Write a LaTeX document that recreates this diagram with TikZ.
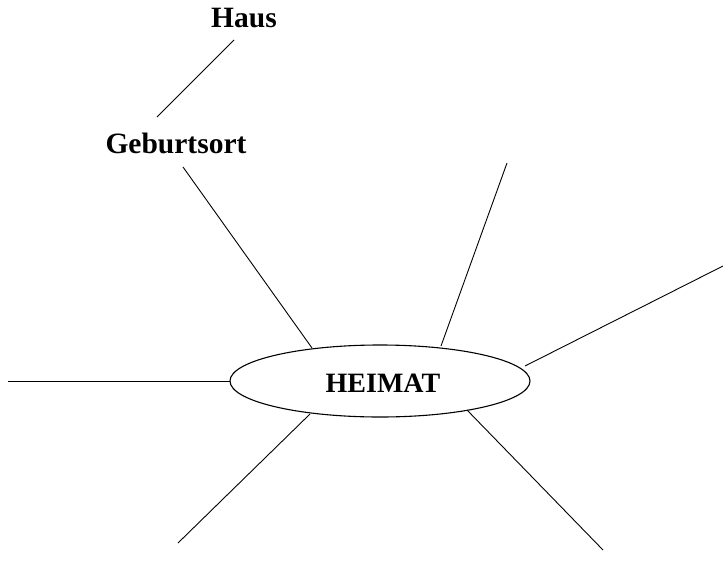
\documentclass[tikz,border=0pt]{standalone}
\usepackage{fontspec}
\setmainfont{Liberation Serif}
\usetikzlibrary{shapes.geometric}
\begin{document}
\begin{tikzpicture}[x=1pt,y=-1pt,
  lbl/.style={font=\fontsize{29.5}{32}\selectfont\bfseries, inner sep=0pt, anchor=base},
  conn/.style={line width=0.9pt}]
\useasboundingbox (0,0) rectangle (723,584);
\node[draw, ellipse, line width=1.1pt, minimum width=300pt, minimum height=72pt, inner sep=0pt] (heimat) at (380,381) {};
\node[lbl, font=\fontsize{28}{30}\selectfont\bfseries] (ht) at (383,392) {HEIMAT};
\node[lbl] (haus) at (244,27) {Haus};
\node[lbl] (geb) at (176,153) {Geburtsort};
% endpoints
\coordinate (h1) at (234,40);
\coordinate (g1) at (157,117);
\coordinate (g2) at (183,167);
\coordinate (e1) at (312,348);
\coordinate (e2) at (441,346);
\coordinate (t2) at (507,163);
\coordinate (e3) at (525,366);
\coordinate (t3) at (723,266);
\coordinate (e4) at (230,381);
\coordinate (t4) at (8,381);
\coordinate (e5) at (310,414);
\coordinate (t5) at (178,543);
\coordinate (e6) at (467,410);
\coordinate (t6) at (603,550);
\draw[conn] (h1) -- (g1);
\draw[conn] (g2) -- (e1);
\draw[conn] (e2) -- (t2);
\draw[conn] (e3) -- (t3);
\draw[conn] (e4) -- (t4);
\draw[conn] (e5) -- (t5);
\draw[conn] (e6) -- (t6);
\end{tikzpicture}
\end{document}
